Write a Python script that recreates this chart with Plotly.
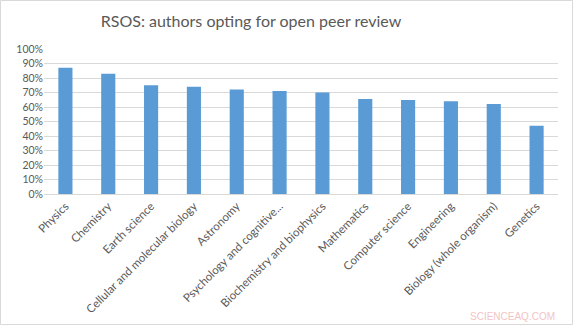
import plotly.graph_objects as go

categories = ["Physics", "Chemistry", "Earth science", "Cellular and molecular biology",
              "Astronomy", "Psychology and cognitive...", "Biochemistry and biophysics",
              "Mathematics", "Computer science", "Engineering", "Biology (whole organism)",
              "Genetics"]
values = [0.87, 0.83, 0.75, 0.74, 0.72, 0.71, 0.70, 0.655, 0.648, 0.64, 0.62, 0.47]
y_ticks = [i / 10 for i in range(11)]
y_tick_labels = [f"{i*10}%" for i in range(11)]

W, H = 573, 325
L, R, T, B = 44, 15, 49, 131
pw, ph = W - L - R, H - T - B

fig = go.Figure(go.Bar(x=categories, y=values, marker_color="#5b9bd5",
                       marker_line_width=0))

font = "Lato, 'Open Sans', sans-serif"
fig.update_layout(
    width=W, height=H,
    margin=dict(l=L, r=R, t=T, b=B, autoexpand=False),
    paper_bgcolor="white", plot_bgcolor="white",
    bargap=0.67,
    showlegend=False,
    font=dict(family=font, color="#595959", size=10),
    title=dict(text="RSOS: authors opting for open peer review",
               x=251 / W, xanchor="center", xref="container",
               y=1 - 21 / H, yanchor="middle", yref="container",
               font=dict(size=16, color="#595959", family=font)),
    xaxis=dict(tickangle=-45, showgrid=False, showline=True, linecolor="#d9d9d9",
               ticks="", tickfont=dict(size=11.5, color="#595959"), automargin=False),
    yaxis=dict(range=[0, 1], tickvals=y_ticks, ticktext=y_tick_labels,
               showgrid=True, gridcolor="#d9d9d9", gridwidth=1, zeroline=False,
               showline=False, ticks="", ticklen=0,
               tickfont=dict(size=10.5, color="#595959"), automargin=False),
    shapes=[dict(type="rect", xref="paper", yref="paper",
                 x0=(0.5 - L) / pw, x1=(W - 0.5 - L) / pw,
                 y0=(H - B - (H - 0.5)) / ph, y1=(H - B - 0.5) / ph,
                 line=dict(color="#d9d9d9", width=1), fillcolor="rgba(0,0,0,0)",
                 layer="below")],
    annotations=[dict(text="SCIENCEAQ.COM", xref="paper", yref="paper",
                      x=(557 - L) / pw, y=(H - B - 316) / ph,
                      xanchor="right", yanchor="middle", showarrow=False,
                      font=dict(size=10, color="#f2c4c4", family="Liberation Sans"))],
)

fig.write_html("out.html")
